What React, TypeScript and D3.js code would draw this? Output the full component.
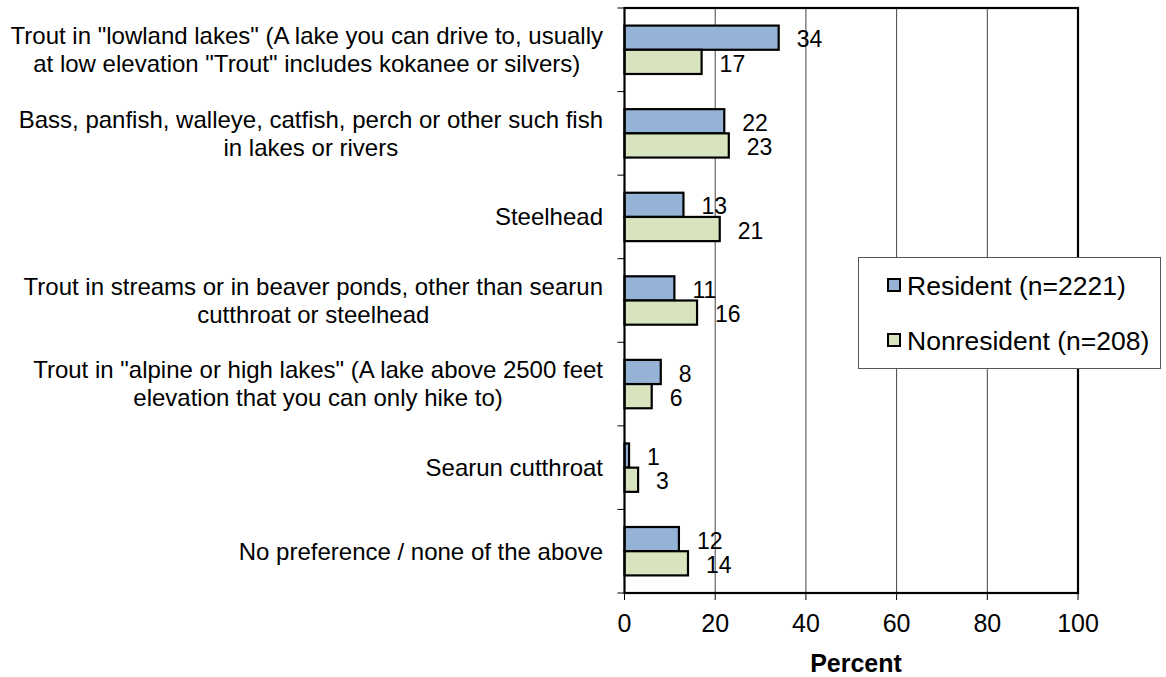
import * as React from "react"
import * as d3 from "d3"

const categories: string[][] = [
    ['Trout in "lowland lakes" (A lake you can drive to, usually', 'at low elevation "Trout" includes kokanee or silvers)'],
    ["Bass, panfish, walleye, catfish, perch or other such fish", "in lakes or rivers"],
    ["Steelhead"],
    ["Trout in streams or in beaver ponds, other than searun", "cutthroat or steelhead"],
    ['Trout in "alpine or high lakes" (A lake above 2500 feet', "elevation that you can only hike to)"],
    ["Searun cutthroat"],
    ["No preference / none of the above"],
]
const resident = [34, 22, 13, 11, 8, 1, 12]
const nonresident = [17, 23, 21, 16, 6, 3, 14]
const seriesNames = ["Resident (n=2221)", "Nonresident (n=208)"]
const seriesColors = ["#95b3d7", "#d7e4bd"]
const xTicks = [0, 20, 40, 60, 80, 100]

const W = 1166
const H = 677
const FONT = "'Liberation Sans', Arial, sans-serif"

export default function App() {
    const svgRef = React.useRef<SVGSVGElement>(null)

    React.useEffect(() => {
        if (!svgRef.current) return
        const svg = d3.select(svgRef.current)
        svg.selectAll("*").remove()

        const left = 624.5, right = 1078, top = 8, bottom = 593

        const x = d3.scaleLinear().domain([0, 100]).range([left, right])
        const y = d3.scaleBand<number>()
            .domain(d3.range(categories.length))
            .range([top, bottom])
            .padding(0)
        const inner = d3.scaleBand<number>()
            .domain([0, 1])
            .range([0, y.bandwidth()])
            .paddingInner(0)
            .paddingOuter(0.727)

        svg.append("rect").attr("width", W).attr("height", H).attr("fill", "#fff")

        // gridlines
        svg.append("g")
            .selectAll("line")
            .data(xTicks.slice(1, -1))
            .join("line")
            .attr("x1", d => x(d)).attr("x2", d => x(d))
            .attr("y1", top).attr("y2", bottom)
            .attr("stroke", "#444")
            .attr("stroke-width", 1)

        // bars + value labels
        const data = [resident, nonresident]
        data.forEach((vals, s) => {
            svg.append("g")
                .selectAll("rect")
                .data(vals)
                .join("rect")
                .attr("x", x(0))
                .attr("y", (d, i) => y(i)! + inner(s)!)
                .attr("width", d => x(d) - x(0))
                .attr("height", inner.bandwidth())
                .attr("fill", seriesColors[s])
                .attr("stroke", "#000")
                .attr("stroke-width", 2.2)

            svg.append("g")
                .selectAll("text")
                .data(vals)
                .join("text")
                .attr("x", d => x(d) + 18)
                .attr("y", (d, i) => y(i)! + inner(s)! + inner.bandwidth() / 2)
                .attr("dy", "0.42em")
                .attr("font-family", FONT)
                .attr("font-size", 23)
                .attr("fill", "#000")
                .text(d => d)
        })

        // plot frame
        svg.append("rect")
            .attr("x", left).attr("y", top)
            .attr("width", right - left).attr("height", bottom - top)
            .attr("fill", "none")
            .attr("stroke", "#000")
            .attr("stroke-width", 2.2)

        // y ticks at category boundaries
        svg.append("g")
            .selectAll("line")
            .data(d3.range(categories.length + 1))
            .join("line")
            .attr("x1", left - 7).attr("x2", left)
            .attr("y1", i => top + i * y.step()).attr("y2", i => top + i * y.step())
            .attr("stroke", "#000")
            .attr("stroke-width", 1)

        // x ticks
        svg.append("g")
            .selectAll("line")
            .data(xTicks)
            .join("line")
            .attr("x1", d => x(d)).attr("x2", d => x(d))
            .attr("y1", bottom).attr("y2", bottom + 7)
            .attr("stroke", "#000")
            .attr("stroke-width", 1)

        svg.append("g")
            .selectAll("text")
            .data(xTicks)
            .join("text")
            .attr("x", d => x(d))
            .attr("y", 623)
            .attr("dy", "0.37em")
            .attr("text-anchor", "middle")
            .attr("font-family", FONT)
            .attr("font-size", 25)
            .text(d => d)

        svg.append("text")
            .attr("x", 856).attr("y", 663)
            .attr("dy", "0.37em")
            .attr("text-anchor", "middle")
            .attr("font-family", FONT)
            .attr("font-size", 25)
            .attr("font-weight", "bold")
            .text("Percent")

        // category labels: block right-aligned, lines centered
        const labelRight = 603
        const lineH = 28
        categories.forEach((lines, i) => {
            const g = svg.append("g")
            const cy = y(i)! + y.bandwidth() / 2
            const texts = lines.map((ln, k) => g.append("text")
                .attr("y", cy + (k - (lines.length - 1) / 2) * lineH)
                .attr("dy", "0.35em")
                .attr("text-anchor", "middle")
                .attr("font-family", FONT)
                .attr("font-size", 24)
                .text(ln))
            const maxW = d3.max(texts, t => (t.node() as SVGTextElement).getComputedTextLength()) || 0
            texts.forEach(t => t.attr("x", labelRight - maxW / 2))
        })

        // legend
        const lg = svg.append("g")
        lg.append("rect")
            .attr("x", 858.5).attr("y", 257.5)
            .attr("width", 302).attr("height", 111)
            .attr("fill", "#fff")
            .attr("stroke", "#555")
            .attr("stroke-width", 1)
        seriesNames.forEach((name, s) => {
            const cy = 285 + s * 55
            lg.append("rect")
                .attr("x", 888).attr("y", cy - 6)
                .attr("width", 12).attr("height", 12)
                .attr("fill", seriesColors[s])
                .attr("stroke", "#000")
                .attr("stroke-width", 2)
            lg.append("text")
                .attr("x", 907).attr("y", cy)
                .attr("dy", "0.37em")
                .attr("font-family", FONT)
                .attr("font-size", 26.5)
                .text(name)
        })
    }, [])

    return (
        <svg
            ref={svgRef}
            width={W}
            height={H}
            viewBox={`0 0 ${W} ${H}`}
            style={{ position: "absolute", left: 0, top: 0, display: "block" }}
        />
    )
}
